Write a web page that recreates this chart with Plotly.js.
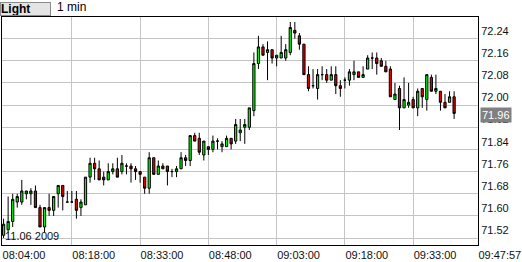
<!DOCTYPE html>
<html>
<head>
<meta charset="utf-8">
<script src="https://cdn.plot.ly/plotly-3.0.1.min.js"></script>
<style>
html,body{margin:0;padding:0;background:#fff;}
#chart{width:522px;height:262px;}
</style>
</head>
<body>
<div id="chart"></div>
<script>
var day = '2009-06-11 ';
var times = [
'08:03','08:04','08:05','08:06','08:07','08:08','08:09','08:10','08:11','08:12',
'08:13','08:14','08:15','08:16','08:17','08:18','08:19','08:20','08:21','08:22',
'08:23','08:24','08:25','08:26','08:27','08:28','08:29','08:30','08:31','08:32',
'08:33','08:34','08:35','08:36','08:37','08:38','08:39','08:40','08:41','08:42',
'08:43','08:44','08:45','08:46','08:47','08:48','08:49','08:50','08:51','08:52',
'08:53','08:54','08:55','08:56','08:57','08:58','08:59','09:00','09:01','09:02',
'09:03','09:04','09:05','09:06','09:07','09:08','09:09','09:10','09:11','09:12',
'09:13','09:14','09:15','09:16','09:17','09:18','09:19','09:20','09:21','09:22',
'09:23','09:24','09:25','09:26','09:27','09:28','09:29','09:30','09:31','09:32',
'09:33','09:34','09:35','09:36','09:37','09:38','09:39','09:40','09:41','09:42'];

var openP = [
71.53,71.55,71.58,71.65,71.65,71.68,71.68,71.69,71.63,71.56,
71.63,71.62,71.68,71.71,71.65,71.65,71.66,71.63,71.64,71.74,
71.79,71.77,71.74,71.73,71.76,71.77,71.76,71.78,71.78,71.77,
71.76,71.74,71.70,71.81,71.75,71.78,71.78,71.76,71.76,71.77,
71.81,71.80,71.89,71.88,71.82,71.85,71.84,71.87,71.85,71.85,
71.88,71.87,71.90,71.92,71.92,71.98,72.15,72.21,72.19,72.20,
72.17,72.17,72.17,72.19,72.27,72.25,72.22,72.11,72.07,72.06,
72.11,72.11,72.09,72.11,72.07,72.09,72.09,72.11,72.12,72.10,
72.13,72.17,72.17,72.16,72.14,72.13,72.02,72.06,71.99,72.00,
72.02,71.99,72.06,72.02,72.10,72.05,72.05,72.01,72.01,72.03];
var highP = [
71.59,71.67,71.68,71.68,71.73,71.69,71.70,71.71,71.64,71.63,
71.68,71.67,71.71,71.71,71.69,71.69,71.69,71.66,71.74,71.81,
71.81,71.80,71.76,71.79,71.79,71.81,71.82,71.79,71.79,71.78,
71.76,71.74,71.83,71.81,71.80,71.79,71.78,71.77,71.78,71.83,
71.82,71.89,71.90,71.90,71.87,71.85,71.89,71.88,71.87,71.89,
71.88,71.95,71.95,71.95,71.99,72.19,72.25,72.22,72.23,72.20,
72.18,72.25,72.22,72.30,72.30,72.26,72.22,72.14,72.13,72.13,
72.14,72.13,72.14,72.14,72.09,72.10,72.13,72.16,72.12,72.14,
72.18,72.19,72.19,72.17,72.16,72.14,72.08,72.07,72.10,72.08,
72.03,72.06,72.06,72.11,72.11,72.11,72.05,72.04,72.05,72.05];
var lowP = [
71.52,71.54,71.56,71.63,71.64,71.66,71.64,71.63,71.56,71.54,
71.60,71.60,71.63,71.62,71.65,71.65,71.59,71.60,71.64,71.72,
71.73,71.73,71.71,71.73,71.75,71.74,71.75,71.75,71.72,71.73,
71.72,71.68,71.68,71.75,71.75,71.77,71.71,71.74,71.74,71.77,
71.78,71.78,71.87,71.82,71.80,71.82,71.83,71.84,71.83,71.85,
71.84,71.86,71.87,71.86,71.91,71.96,72.13,72.18,72.09,72.15,
72.14,72.17,72.16,72.18,72.24,72.20,72.11,72.05,72.06,72.02,
72.09,72.08,72.09,72.04,72.03,72.06,72.07,72.09,72.10,72.10,
72.13,72.13,72.11,72.14,72.12,72.03,72.02,71.91,71.99,71.99,
71.99,71.96,71.99,71.98,72.05,72.04,71.98,71.99,72.01,71.95];
var closeP = [
71.57,71.58,71.66,71.67,71.69,71.69,71.69,71.63,71.56,71.63,
71.62,71.67,71.71,71.67,71.65,71.65,71.62,71.65,71.74,71.79,
71.77,71.73,71.73,71.76,71.77,71.74,71.79,71.78,71.77,71.76,
71.75,71.70,71.81,71.75,71.78,71.77,71.76,71.76,71.77,71.81,
71.80,71.89,71.87,71.83,71.87,71.84,71.87,71.87,71.86,71.88,
71.86,71.93,71.91,71.93,71.99,72.15,72.21,72.18,72.20,72.17,
72.18,72.19,72.20,72.28,72.26,72.22,72.11,72.06,72.07,72.11,
72.11,72.09,72.11,72.07,72.06,72.09,72.12,72.12,72.10,72.11,
72.17,72.17,72.15,72.14,72.12,72.03,72.04,71.99,72.02,72.01,
71.99,72.05,72.03,72.11,72.05,72.06,72.01,71.99,72.03,71.97];

var xTickTimes = ['08:02:40','08:18:00','08:33:00','08:48:00','09:03:00','09:18:00','09:33:00','09:47:14'];
var xTickText  = ['08:04:00','08:18:00','08:33:00','08:48:00','09:03:00','09:18:00','09:33:00','09:47:57'];
var yTicks = [71.52,71.60,71.68,71.76,71.84,71.92,72.00,72.08,72.16,72.24];
var lastPrice = '71.96';
var symbol = 'Light';
var interval = '1 min';
var dateLabel = '11.06 2009';

var xs = times.map(function(t){ return day + t; });

var trace = {
  type: 'candlestick',
  x: xs, open: openP, high: highP, low: lowP, close: closeP,
  increasing: {line: {color: '#000000', width: 1}, fillcolor: '#00f800'},
  decreasing: {line: {color: '#000000', width: 1}, fillcolor: '#e00000'},
  whiskerwidth: 0,
  hoverinfo: 'skip',
  showlegend: false
};

var fnt = {family: '"Liberation Sans", Arial, sans-serif', size: 11, color: '#111'};

var layout = {
  width: 522, height: 262,
  margin: {l: 2, r: 44, t: 17, b: 17, pad: 0},
  paper_bgcolor: '#ffffff', plot_bgcolor: '#ffffff',
  showlegend: false,
  boxgap: 0.3,
  font: fnt,
  xaxis: {
    type: 'date',
    range: [day + '08:02:39', day + '09:47:15'],
    rangeslider: {visible: false},
    tickmode: 'array',
    tickvals: xTickTimes.map(function(t){ return day + t; }),
    ticktext: xTickText,
    ticklabelposition: 'outside right',
    ticks: '', ticklen: 0,
    showgrid: true, gridcolor: '#c4c4c4', gridwidth: 1,
    showline: true, linecolor: '#000', linewidth: 1, mirror: true,
    tickfont: fnt, fixedrange: true
  },
  yaxis: {
    side: 'right',
    range: [71.495, 72.318],
    tickmode: 'array',
    tickvals: yTicks,
    ticktext: yTicks.map(function(v){ return v.toFixed(2); }),
    ticklabelposition: 'outside top',
    ticks: '', ticklen: 0,
    showgrid: true, gridcolor: '#c4c4c4', gridwidth: 1,
    zeroline: false,
    showline: true, linecolor: '#000', linewidth: 1, mirror: true,
    tickfont: fnt, fixedrange: true
  },
  annotations: [
    {xref: 'paper', yref: 'y', x: 1, y: 71.96, xanchor: 'left', yanchor: 'middle', xshift: 2, yshift: 1,
     text: lastPrice, showarrow: false, bgcolor: '#808080', borderpad: 1,
     font: {family: '"Liberation Sans", Arial, sans-serif', size: 11, color: '#ffffff'}},
    {xref: 'paper', yref: 'paper', x: 0, y: 0, xanchor: 'left', yanchor: 'bottom', xshift: 1, yshift: 1,
     text: dateLabel, showarrow: false,
     font: {family: '"Liberation Sans", Arial, sans-serif', size: 11, color: '#111'}},
    {xref: 'paper', yref: 'paper', x: 0, y: 1, xanchor: 'left', yanchor: 'bottom', xshift: -2, yshift: 1,
     text: '<b>' + symbol + '</b>', showarrow: false, align: 'left',
     width: 49, height: 12, bgcolor: '#e4e4e4', bordercolor: '#8a8a8a', borderwidth: 1, borderpad: 0,
     font: {family: '"Liberation Sans", Arial, sans-serif', size: 12, color: '#000'}},
    {xref: 'paper', yref: 'paper', x: 0, y: 1, xanchor: 'left', yanchor: 'bottom', xshift: 53, yshift: 1,
     text: interval, showarrow: false,
     font: {family: '"Liberation Sans", Arial, sans-serif', size: 12, color: '#000'}}
  ]
};

Plotly.newPlot('chart', [trace], layout, {displayModeBar: false, staticPlot: true});
</script>
</body>
</html>
